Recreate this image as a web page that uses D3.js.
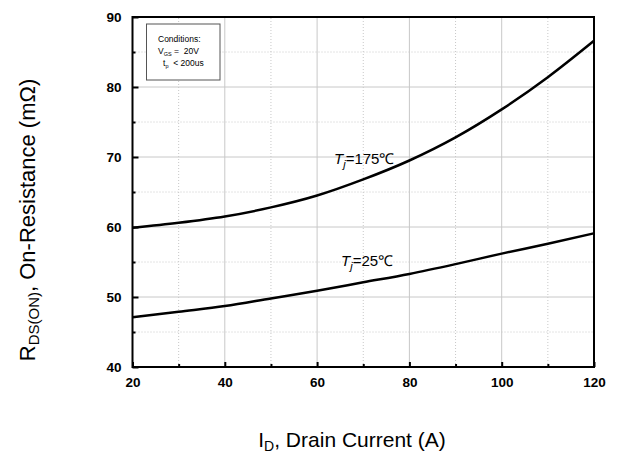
<!DOCTYPE html>
<html>
<head>
<meta charset="utf-8">
<script src="https://cdn.jsdelivr.net/npm/d3@7"></script>
<style>
  body { margin: 0; background: #fff; }
  svg { display: block; font-family: Arial, "Liberation Sans", sans-serif; }
</style>
</head>
<body>
<div id="chart"></div>
<script>
// drain current (A)
var current = [20, 30, 40, 50, 60, 70, 80, 90, 100, 110, 120];
// R_DS(on) in mOhm
var rTj175 = [59.9, 60.6, 61.5, 62.8, 64.5, 66.8, 69.5, 72.8, 76.8, 81.4, 86.6];
var rTj25 = [47.1, 47.9, 48.7, 49.8, 50.9, 52.1, 53.3, 54.7, 56.2, 57.6, 59.1];
var xTicks = [20, 40, 60, 80, 100, 120];
var yTicks = [40, 50, 60, 70, 80, 90];

var width = 620, height = 462;
var margin = {top: 17, right: 26, bottom: 95, left: 132.5};

var svg = d3.select("#chart").append("svg")
    .attr("width", width)
    .attr("height", height);

var x = d3.scaleLinear().domain([20, 120]).range([margin.left, width - margin.right]);
var y = d3.scaleLinear().domain([40, 90]).range([height - margin.bottom, margin.top]);

// grid
var g = svg.append("g");
g.selectAll(".vmaj").data([40, 60, 80, 100]).enter().append("line")
    .attr("x1", d => x(d)).attr("x2", d => x(d))
    .attr("y1", y(40)).attr("y2", y(90))
    .attr("stroke", "#c8c8c8").attr("stroke-width", 1);
g.selectAll(".vmin").data([30, 50, 70, 90, 110]).enter().append("line")
    .attr("x1", d => x(d)).attr("x2", d => x(d))
    .attr("y1", y(40)).attr("y2", y(90))
    .attr("stroke", "#c8c8c8").attr("stroke-width", 1).attr("stroke-dasharray", "1,2");
g.selectAll(".hmaj").data([50, 60, 70, 80]).enter().append("line")
    .attr("x1", x(20)).attr("x2", x(120))
    .attr("y1", d => y(d)).attr("y2", d => y(d))
    .attr("stroke", "#c8c8c8").attr("stroke-width", 1);
g.selectAll(".hmin").data([45, 55, 65, 75, 85]).enter().append("line")
    .attr("x1", x(20)).attr("x2", x(120))
    .attr("y1", d => y(d)).attr("y2", d => y(d))
    .attr("stroke", "#c8c8c8").attr("stroke-width", 1).attr("stroke-dasharray", "1,2");

// axes (ticks point inward)
var xAxis = svg.append("g")
    .attr("transform", "translate(0," + y(40) + ")")
    .call(d3.axisBottom(x).tickValues(xTicks).tickSizeInner(-5).tickSizeOuter(0).tickPadding(10));
var xMinor = svg.append("g")
    .attr("transform", "translate(0," + y(40) + ")")
    .call(d3.axisBottom(x).tickValues([30, 50, 70, 90, 110]).tickSize(-3).tickFormat(""));
var yAxis = svg.append("g")
    .attr("transform", "translate(" + x(20) + ",0)")
    .call(d3.axisLeft(y).tickValues(yTicks).tickSizeInner(-6).tickSizeOuter(0).tickPadding(11));
var yMinor = svg.append("g")
    .attr("transform", "translate(" + x(20) + ",0)")
    .call(d3.axisLeft(y).tickValues([45, 55, 65, 75, 85]).tickSize(-3).tickFormat(""));

[xAxis, xMinor, yAxis, yMinor].forEach(function (a) {
    a.select(".domain").remove();
    a.selectAll("line").attr("stroke", "#000").attr("stroke-width", 2);
    a.selectAll("text")
        .attr("fill", "#000")
        .style("font-size", "13.5px")
        .style("font-weight", "bold");
});
yAxis.selectAll("text").attr("dy", "0.36em");

// frame
svg.append("rect")
    .attr("x", x(20)).attr("y", y(90))
    .attr("width", x(120) - x(20)).attr("height", y(40) - y(90))
    .attr("fill", "none").attr("stroke", "#000").attr("stroke-width", 2);

// curves
var line = d3.line()
    .x(function (d, i) { return x(current[i]); })
    .y(function (d) { return y(d); })
    .curve(d3.curveMonotoneX);

[rTj175, rTj25].forEach(function (s) {
    svg.append("path")
        .attr("d", line(s))
        .attr("fill", "none")
        .attr("stroke", "#000")
        .attr("stroke-width", 2.5);
});

// curve labels
function tjLabel(px, py, txt) {
    var t = svg.append("text").attr("x", px).attr("y", py)
        .style("font-size", "15px").attr("fill", "#000");
    t.append("tspan").style("font-style", "italic").text("T");
    t.append("tspan").attr("dy", 4).style("font-size", "11px").style("font-style", "italic").text("j");
    t.append("tspan").attr("dy", -4).text(txt);
}
tjLabel(334, 164, "=175℃");
tjLabel(341, 266, "=25℃");

// conditions box
svg.append("rect")
    .attr("x", 146.5).attr("y", 24)
    .attr("width", 73.5).attr("height", 56)
    .attr("fill", "#fff").attr("stroke", "#555").attr("stroke-width", 1);
var c = svg.append("g").style("font-size", "8.5px").attr("fill", "#000");
c.append("text").attr("x", 158).attr("y", 42).text("Conditions:");
var v = c.append("text").attr("x", 158).attr("y", 54);
v.append("tspan").text("V");
v.append("tspan").attr("dy", 2).style("font-size", "5.5px").text("GS");
v.append("tspan").attr("dy", -2).text("\u00a0=\u00a0\u00a020V");
var tp = c.append("text").attr("x", 163).attr("y", 66);
tp.append("tspan").text("t");
tp.append("tspan").attr("dy", 2).style("font-size", "5.5px").text("p");
tp.append("tspan").attr("dy", -2).text("\u00a0\u00a0< 200us");

// axis titles
var xt = svg.append("text")
    .attr("x", 352).attr("y", 447)
    .attr("text-anchor", "middle")
    .style("font-size", "21px").attr("fill", "#000");
xt.append("tspan").text("I");
xt.append("tspan").attr("dy", 4).style("font-size", "14px").text("D");
xt.append("tspan").attr("dy", -4).text(", Drain Current (A)");

var yt = svg.append("text")
    .attr("transform", "translate(35,220) rotate(-90)")
    .attr("text-anchor", "middle")
    .style("font-size", "22px").attr("fill", "#000");
yt.append("tspan").text("R");
yt.append("tspan").attr("dy", 4).style("font-size", "15px").text("DS(ON)");
yt.append("tspan").attr("dy", -4).text(", On-Resistance (mΩ)");
</script>
</body>
</html>
